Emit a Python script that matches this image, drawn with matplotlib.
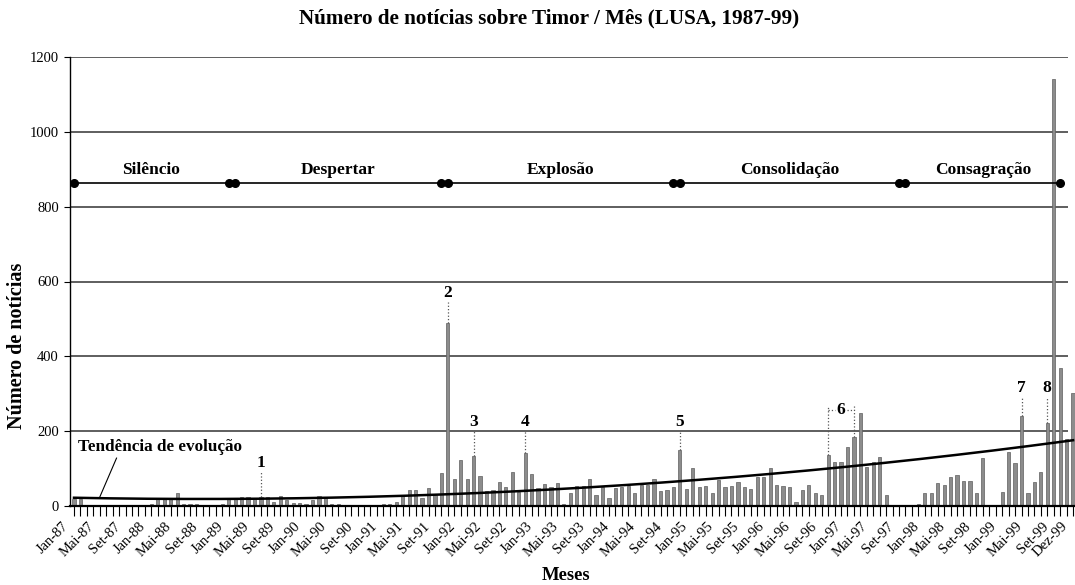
import numpy as np
import matplotlib
matplotlib.use("Agg")
import matplotlib.pyplot as plt
from matplotlib.transforms import ScaledTranslation

plt.rcParams['font.family'] = ['Liberation Serif', 'DejaVu Serif']

# ---------------- data ----------------
month_names = ['Jan', 'Fev', 'Mar', 'Abr', 'Mai', 'Jun', 'Jul', 'Ago', 'Set', 'Out', 'Nov', 'Dez']
years = ['87', '88', '89', '90', '91', '92', '93', '94', '95', '96', '97', '98', '99']
categories = [f"{m}-{y}" for y in years for m in month_names]

news_per_month = [
    # 1987
    20, 20, 4, 4, 4, 4, 4, 4, 4, 4, 4, 4,
    # 1988
    5, 20, 20, 18, 35, 5, 5, 5, 4, 4, 4, 5,
    # 1989
    22, 22, 25, 25, 22, 25, 24, 10, 27, 15, 8, 8,
    # 1990
    5, 16, 27, 21, 5, 5, 4, 4, 4, 4, 4, 4,
    # 1991
    5, 5, 10, 27, 43, 43, 21, 48, 29, 88, 489, 72,
    # 1992
    123, 72, 134, 80, 40, 43, 64, 51, 91, 37, 141, 85,
    # 1993
    48, 60, 51, 61, 5, 35, 53, 53, 72, 29, 51, 21,
    # 1994
    48, 51, 53, 35, 56, 56, 72, 40, 43, 51, 150, 45,
    # 1995
    101, 51, 53, 35, 69, 51, 53, 64, 51, 45, 77, 77,
    # 1996
    101, 56, 53, 51, 11, 43, 55, 35, 29, 136, 118, 118,
    # 1997
    158, 185, 248, 105, 118, 130, 30, 3, 3, 3, 4, 6,
    # 1998
    35, 35, 62, 56, 77, 83, 67, 67, 35, 128, 3, 3,
    # 1999
    37, 144, 115, 240, 35, 64, 91, 222, 1140, 368, 179, 302,
]

tick_months = list(range(0, 156, 4)) + [155]
tick_labels = [categories[i] for i in tick_months]

# trend line ("Tendência de evolução") at a few months
trend_months = [0, 54, 85, 110, 155]
trend_values = [22, 29, 56, 88, 176]

# phases
phase_names = ['Silêncio', 'Despertar', 'Explosão', 'Consolidação', 'Consagração']
phase_starts = [0, 25, 58, 94, 129]
phase_ends = [24, 57, 93, 128, 153]
phase_level = 862

# numbered events
event_labels = ['1', '2', '3', '4', '5', '7', '8']
event_months = [29, 58, 62, 70, 94, 147, 151]
event_text_y = [115, 569, 225, 225, 225, 315, 315]
event6_months = [117, 121]
event6_text_y = 256

# ---------------- figure ----------------
W, H = 1075, 585
fig = plt.figure(figsize=(W / 100, H / 100), dpi=100)
ax = fig.add_axes([70 / W, 1 - 506 / H, 1005 / W, (506 - 57) / H])

x = np.arange(len(news_per_month))
xmin, xmax = -0.62, 155.3
ax.set_xlim(xmin, xmax)
ax.set_ylim(0, 1200)

# gridlines
ax.hlines(np.arange(200, 1201, 200), xmin, 154.2, color='#333333', lw=1.1, zorder=1)

# bars
ax.bar(x, news_per_month, width=0.5, color='#8c8c8c', edgecolor='#5e5e5e',
       linewidth=0.5, zorder=2)

# trend line
coef = np.polyfit(trend_months, trend_values, 2)
tx = np.linspace(0, 155, 300)
ax.plot(tx, np.polyval(coef, tx), color='black', lw=1.8, zorder=4)
ax.text(0.6, 158, 'Tendência de evolução', fontsize=12.3, fontweight='bold',
        ha='left', va='center', zorder=5)
ax.plot([6.6, 4.0], [128, 24], color='black', lw=0.8, zorder=5)

# phases
ax.plot([phase_starts[0], phase_ends[-1]], [phase_level, phase_level],
        color='black', lw=1.2, zorder=3)
dots = sorted(set(phase_starts + phase_ends))
ax.plot(dots, [phase_level] * len(dots), 'o', color='black', ms=5.5, zorder=4)
for name, s, e in zip(phase_names, phase_starts, phase_ends):
    ax.text((s + e) / 2, 897, name, fontsize=12.5, fontweight='bold',
            ha='center', va='center', zorder=5)

# events
for lab, m, ty in zip(event_labels, event_months, event_text_y):
    top = news_per_month[m]
    ax.plot([m, m], [top, ty - 25], ls=':', color='#555555', lw=0.9, zorder=3)
    ax.text(m, ty, lab, fontsize=12.5, fontweight='bold', ha='center',
            va='center', zorder=5)
m1, m2 = event6_months
for m in event6_months:
    ax.plot([m, m], [news_per_month[m], event6_text_y + 10], ls=':',
            color='#555555', lw=0.9, zorder=3)
mid = (m1 + m2) / 2
ax.plot([m1, mid - 0.9], [event6_text_y, event6_text_y], ls=':', color='#555555', lw=0.9)
ax.plot([mid + 0.9, m2], [event6_text_y, event6_text_y], ls=':', color='#555555', lw=0.9)
ax.text(mid, event6_text_y, '6', fontsize=12.5, fontweight='bold', ha='center',
        va='center', zorder=5)

# axes styling
for s in ['top', 'right']:
    ax.spines[s].set_visible(False)
ax.spines['bottom'].set_linewidth(1.6)
ax.spines['left'].set_linewidth(1.0)
ax.set_yticks(np.arange(0, 1201, 200))
ax.tick_params(axis='y', direction='out', length=4, labelsize=10.5, pad=4)
ax.set_xticks(tick_months)
ax.set_xticklabels(tick_labels, rotation=45, ha='right', rotation_mode='anchor',
                   fontsize=10.5)
ax.set_xticks(x, minor=True)
ax.tick_params(axis='x', which='both', direction='out', length=7, width=0.8, pad=3)
shift = ScaledTranslation(-12 / 100, 0, fig.dpi_scale_trans)
for lbl in ax.get_xticklabels():
    lbl.set_transform(lbl.get_transform() + shift)

fig.text(0.511, 1 - 18 / H, 'Número de notícias sobre Timor / Mês (LUSA, 1987-99)',
         fontsize=15.2, fontweight='bold', ha='center', va='center')
fig.text(17 / W, 1 - 346 / H, 'Número de notícias', fontsize=14.5, fontweight='bold',
         rotation=90, ha='center', va='center')
fig.text(566 / W, 1 - 576 / H, 'Meses', fontsize=13.4, fontweight='bold',
         ha='center', va='center')

fig.savefig('out.png', dpi=100)
